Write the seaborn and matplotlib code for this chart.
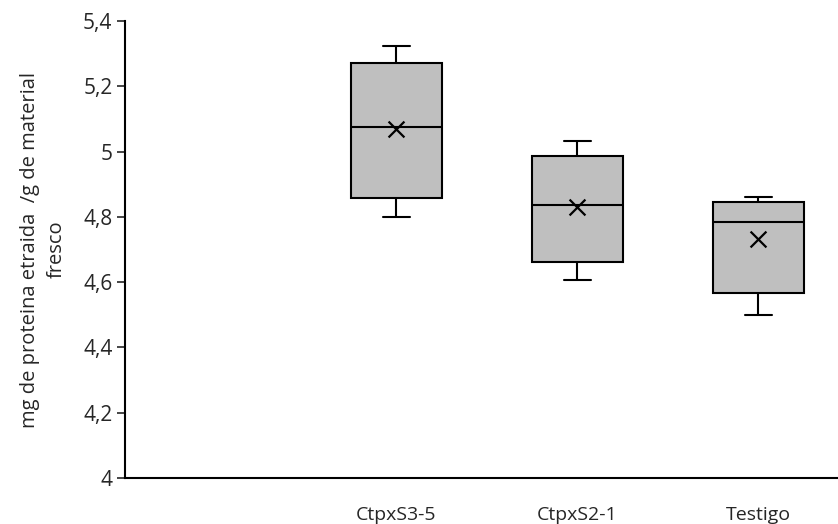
import numpy as np
import pandas as pd
import matplotlib
matplotlib.use('Agg')
import matplotlib.pyplot as plt
import seaborn as sns

# categories (the first slot is empty in the original chart)
categories = ['', 'CtpxS3-5', 'CtpxS2-1', 'Testigo']
groups = ['CtpxS3-5', 'CtpxS2-1', 'Testigo']

# box summary
whisker_low = [4.80, 4.607, 4.50]
q1 = [4.857, 4.663, 4.566]
median = [5.076, 4.837, 4.785]
q3 = [5.272, 4.987, 4.844]
whisker_high = [5.323, 5.033, 4.862]
means = [5.069, 4.829, 4.731]

# five points per group reproduce the box (min, q1, median, q3, max)
rows = []
for i, g in enumerate(groups):
    for v in [whisker_low[i], q1[i], median[i], q3[i], whisker_high[i]]:
        rows.append({'grupo': g, 'valor': v})
df = pd.DataFrame(rows)
df['grupo'] = pd.Categorical(df['grupo'], categories=categories)
df_mean = pd.DataFrame({'grupo': pd.Categorical(groups, categories=categories), 'media': means})

sns.set_style('white')
plt.rcParams['font.family'] = ['Open Sans', 'DejaVu Sans']

fig = plt.figure(figsize=(8.38, 5.24), dpi=100)
ax = fig.add_axes([125 / 838, 1 - 478 / 524, 1 - 125 / 838, (478 - 21) / 524])

sns.boxplot(data=df, x='grupo', y='valor', order=categories, whis=np.inf,
            width=0.5, color='#bfbfbf', linecolor='black', linewidth=1.5,
            saturation=1, capwidths=0.15, ax=ax)
sns.scatterplot(data=df_mean, x='grupo', y='media', marker='x', s=130,
                color='black', linewidth=1.6, ax=ax, zorder=5, legend=False)

ax.set_xlim(-0.5, 3.44)
ax.set_ylim(4, 5.4)
yt = [4, 4.2, 4.4, 4.6, 4.8, 5, 5.2, 5.4]
ax.set_yticks(yt)
ax.set_yticklabels([f'{t:g}'.replace('.', ',') for t in yt], fontsize=15)
ax.tick_params(axis='y', direction='out', length=6, width=1.2, left=True, pad=3)
ax.tick_params(axis='x', length=0, pad=20, labelsize=14)

for s in ['top', 'right']:
    ax.spines[s].set_visible(False)
for s in ['left', 'bottom']:
    ax.spines[s].set_linewidth(1.5)
    ax.spines[s].set_color('black')

ax.set_xlabel('')
ax.set_ylabel('mg de proteina etraida  /g de material\nfresco', fontsize=14.5,
              labelpad=12, linespacing=1.45)

plt.savefig('out.png', dpi=100)
plt.close()
